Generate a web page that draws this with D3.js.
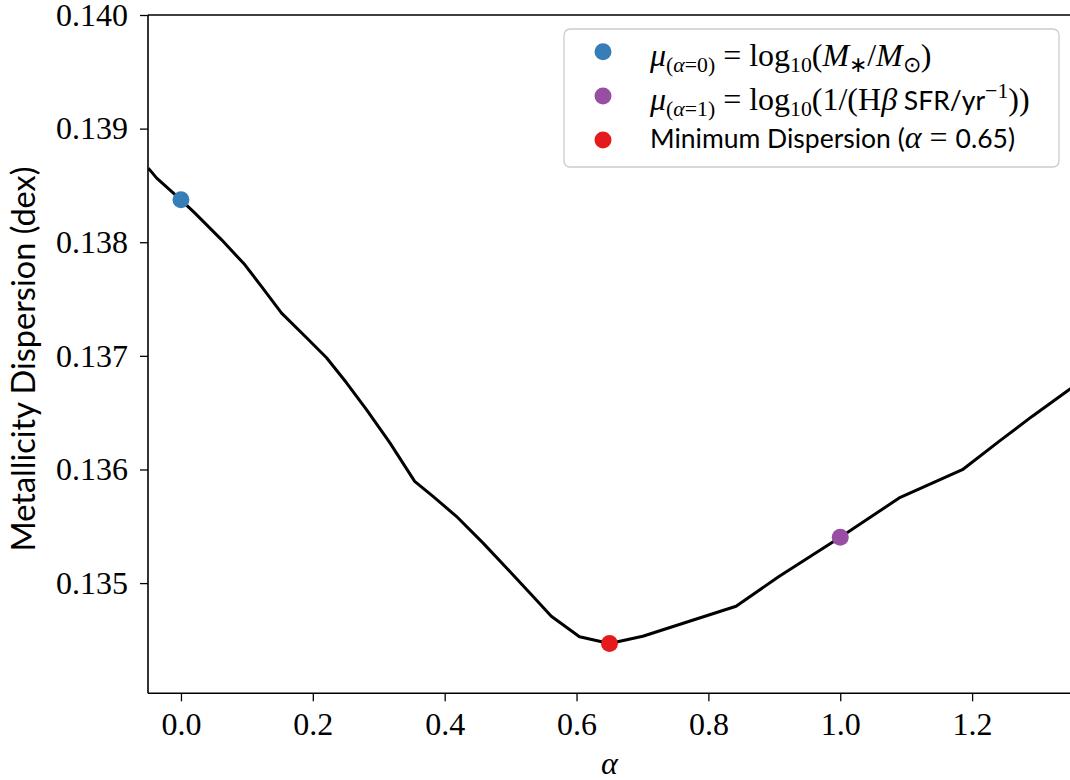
<!DOCTYPE html>
<html>
<head>
<meta charset="utf-8">
<script src="https://cdn.jsdelivr.net/npm/d3@7"></script>
<style>
  body { margin: 0; background: #fff; }
  svg { display: block; }
</style>
</head>
<body>
<svg id="chart" width="1070" height="780"></svg>
<script>
// Metallicity dispersion as a function of the mixing parameter alpha
const alphaValues = [-0.0495, -0.0368, 0.0, 0.0212, 0.0617, 0.097, 0.1223, 0.1526, 0.1905, 0.2208,
  0.2511, 0.2814, 0.3167, 0.3545, 0.3823, 0.4177, 0.458, 0.4985, 0.5338, 0.5617,
  0.6045, 0.65, 0.7005, 0.842, 0.9076, 1.0, 1.0894, 1.1853, 1.2409, 1.2909, 1.347, 1.36];
const dispersionValues = [0.138652, 0.138564, 0.138373, 0.138256, 0.138021, 0.137801, 0.13761, 0.137376, 0.137159, 0.136983,
  0.136763, 0.136526, 0.136236, 0.135895, 0.135763, 0.135588, 0.135354, 0.135104, 0.134884, 0.134708,
  0.134527, 0.134468, 0.134532, 0.134796, 0.13506, 0.135403, 0.135749, 0.135998, 0.136247, 0.136467, 0.136702, 0.136755];

// Highlighted points
const markerAlphas = [0.0, 1.0, 0.65];
const markerValues = [0.138373, 0.135403, 0.134468];
const markerColors = ["#377eb8", "#984ea3", "#e41a1c"];

const xTickValues = [0.0, 0.2, 0.4, 0.6, 0.8, 1.0, 1.2];
const yTickValues = [0.135, 0.136, 0.137, 0.138, 0.139, 0.140];

const SERIF = "'Liberation Serif', 'Times New Roman', serif";
const SANS = "Lato, 'Open Sans', sans-serif";

const plotLeft = 148, plotRight = 1071, plotTop = 15, plotBottom = 693.3;

const svg = d3.select("#chart");

const x = d3.scaleLinear().domain([-0.05, 1.35]).range([plotLeft, plotRight]);
const y = d3.scaleLinear().domain([0.13403, 0.140]).range([plotBottom, plotTop]);

svg.append("defs").append("clipPath").attr("id", "plotClip")
  .append("rect").attr("x", plotLeft).attr("y", plotTop)
  .attr("width", plotRight - plotLeft).attr("height", plotBottom - plotTop);

// Curve
const series = alphaValues.map((a, i) => ({ a, v: dispersionValues[i] }));
svg.append("path")
  .datum(series)
  .attr("clip-path", "url(#plotClip)")
  .attr("fill", "none")
  .attr("stroke", "#000")
  .attr("stroke-width", 3)
  .attr("stroke-linejoin", "round")
  .attr("d", d3.line().x(d => x(d.a)).y(d => y(d.v)));

// Markers
svg.selectAll("circle.marker")
  .data(markerAlphas.map((a, i) => ({ a, v: markerValues[i], c: markerColors[i] })))
  .join("circle")
  .attr("class", "marker")
  .attr("cx", d => x(d.a))
  .attr("cy", d => y(d.v))
  .attr("r", 8.5)
  .attr("fill", d => d.c);

// Axes
const xAxis = svg.append("g")
  .attr("transform", `translate(0,${plotBottom})`)
  .call(d3.axisBottom(x).tickValues(xTickValues).tickFormat(d3.format(".1f")).tickSize(8).tickPadding(11));
const yAxis = svg.append("g")
  .attr("transform", `translate(${plotLeft},0)`)
  .call(d3.axisLeft(y).tickValues(yTickValues).tickFormat(d3.format(".3f")).tickSize(8).tickPadding(12));

[xAxis, yAxis].forEach(g => {
  g.select(".domain").remove();
  g.selectAll(".tick line").attr("stroke", "#000").attr("stroke-width", 1.3);
  g.selectAll(".tick text").attr("font-family", SERIF).attr("font-size", 32).attr("fill", "#000");
});

// Spines (top, left, bottom)
const spine = svg.append("g").attr("stroke", "#000").attr("stroke-width", 1.6).attr("fill", "none");
spine.append("line").attr("x1", plotLeft).attr("x2", 1070).attr("y1", plotTop).attr("y2", plotTop);
spine.append("line").attr("x1", plotLeft).attr("x2", plotLeft).attr("y1", plotTop).attr("y2", plotBottom);
spine.append("line").attr("x1", plotLeft).attr("x2", 1070).attr("y1", plotBottom).attr("y2", plotBottom);

// Axis labels
svg.append("text")
  .attr("x", (plotLeft + plotRight) / 2).attr("y", 774)
  .attr("text-anchor", "middle")
  .attr("font-family", SERIF).attr("font-style", "italic").attr("font-size", 32)
  .text("α");

svg.append("text")
  .attr("transform", `translate(35,359) rotate(-90)`)
  .attr("text-anchor", "middle")
  .attr("font-family", SANS).attr("font-size", 32.5)
  .text("Metallicity Dispersion (dex)");

// Legend
const legend = svg.append("g");
legend.append("rect")
  .attr("x", 564).attr("y", 29).attr("width", 495).attr("height", 138)
  .attr("rx", 6)
  .attr("fill", "#fff").attr("fill-opacity", 0.8)
  .attr("stroke", "#cccccc").attr("stroke-width", 1.3);

const SERIF_FS = 32, SANS_FS = 26.5;
// rich-text segments: t text, f family, i italic, s shift ("sub"/"sup")
const legendLines = [
  [
    { t: "μ", f: "serif", i: true },
    { t: "(", f: "serif", s: "sub" }, { t: "α", f: "serif", i: true, s: "sub" }, { t: "=0)", f: "serif", s: "sub" },
    { t: " = log", f: "serif" }, { t: "10", f: "serif", s: "sub" },
    { t: "(", f: "serif" }, { t: "M", f: "serif", i: true }, { t: "∗", f: "serif", s: "sub" },
    { t: "/", f: "serif" }, { t: "M", f: "serif", i: true }, { t: "⊙", f: "serif", s: "sub" },
    { t: ")", f: "serif" }
  ],
  [
    { t: "μ", f: "serif", i: true },
    { t: "(", f: "serif", s: "sub" }, { t: "α", f: "serif", i: true, s: "sub" }, { t: "=1)", f: "serif", s: "sub" },
    { t: " = log", f: "serif" }, { t: "10", f: "serif", s: "sub" },
    { t: "(1/(H", f: "serif" }, { t: "β", f: "serif", i: true },
    { t: " SFR/yr", f: "sans" }, { t: "−1", f: "serif", s: "sup" },
    { t: "))", f: "serif" }
  ],
  [
    { t: "Minimum Dispersion (", f: "sans" },
    { t: "α", f: "serif", i: true }, { t: " = ", f: "serif" },
    { t: "0.65)", f: "sans" }
  ]
];
const legendBaselines = [66, 110, 148];
const legendDotY = [51.7, 96, 140];

legendLines.forEach((segs, li) => {
  legend.append("circle")
    .attr("cx", 603).attr("cy", legendDotY[li]).attr("r", 8.5)
    .attr("fill", markerColors[li]);
  const txt = legend.append("text")
    .attr("x", 650).attr("y", legendBaselines[li])
    .attr("fill", "#000")
    .attr("xml:space", "preserve");
  let prevShift = 0;
  segs.forEach(sg => {
    const shift = sg.s === "sub" ? 6 : sg.s === "sup" ? -12 : 0;
    const base = sg.f === "sans" ? SANS_FS : SERIF_FS;
    txt.append("tspan")
      .attr("dy", shift - prevShift)
      .attr("font-family", sg.f === "sans" ? SANS : SERIF)
      .attr("font-style", sg.i ? "italic" : "normal")
      .attr("font-size", sg.s ? base * 0.68 : base)
      .text(sg.t);
    prevShift = shift;
  });
});
</script>
</body>
</html>
